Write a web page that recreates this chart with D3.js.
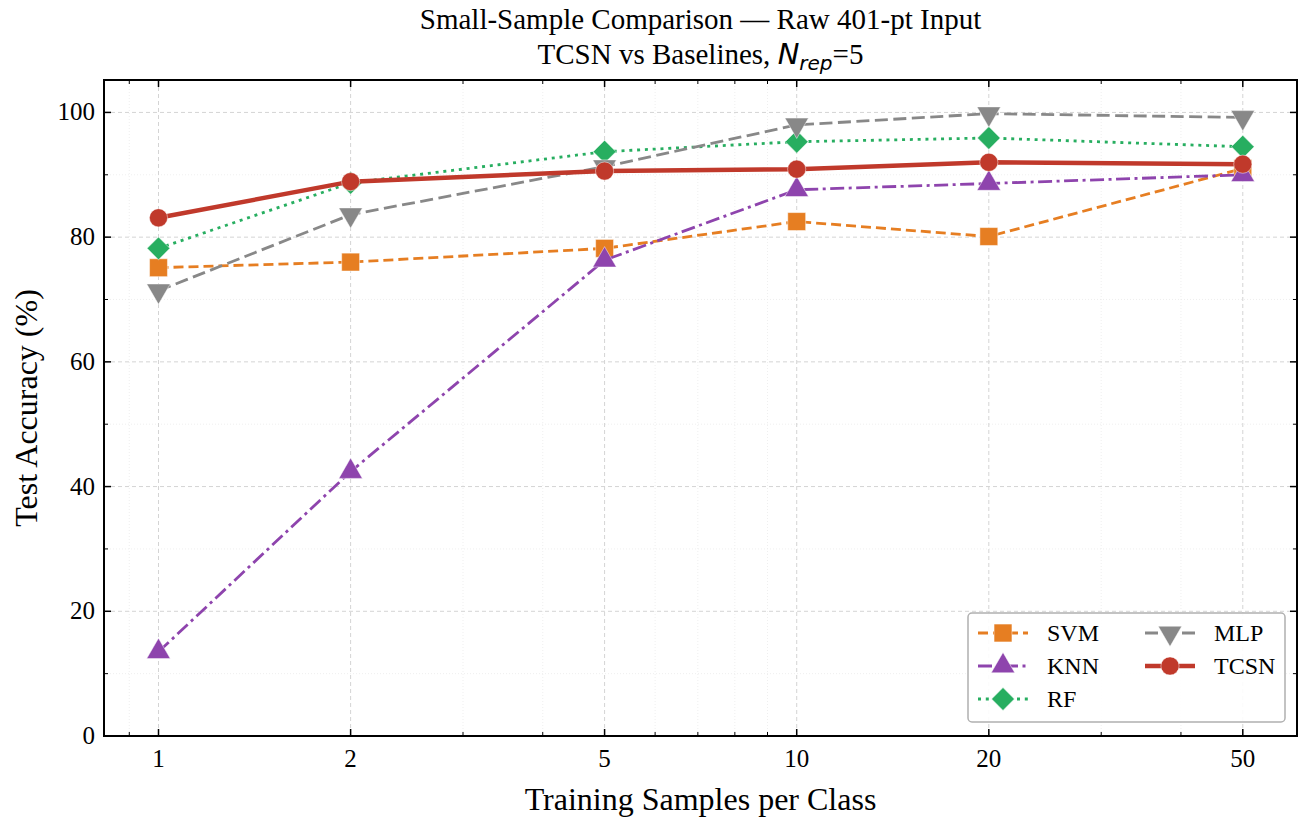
<!DOCTYPE html>
<html>
<head>
<meta charset="utf-8">
<script src="https://cdn.jsdelivr.net/npm/d3@7"></script>
<style>
body { margin: 0; background: #fff; }
svg text { font-family: "Liberation Serif", "Times New Roman", serif; fill: #000; }
</style>
</head>
<body>
<script>
// data
var samples = [1, 2, 5, 10, 20, 50];
var svmAcc  = [75.1, 76.0, 78.2, 82.5, 80.1, 91.0];
var knnAcc  = [13.5, 42.4, 76.3, 87.6, 88.6, 90.0];
var rfAcc   = [78.2, 88.7, 93.7, 95.3, 95.9, 94.5];
var mlpAcc  = [71.4, 83.6, 91.3, 98.0, 99.8, 99.2];
var tcsnAcc = [83.1, 88.9, 90.6, 90.9, 92.0, 91.7];
var seriesNames = ["SVM", "KNN", "RF", "MLP", "TCSN"];
var yTicks = [0, 20, 40, 60, 80, 100];

var W = 1307, H = 823;
var pL = 104, pR = 1297, pT = 80, pB = 736;

var svg = d3.select("body").append("svg")
  .attr("width", W)
  .attr("height", H);

var x = d3.scaleLog().domain([0.8215, 60.8]).range([pL, pR]);
var y = d3.scaleLinear().domain([0, 105.2]).range([pB, pT]);

var xMajor = samples;
var xMinor = [0.9, 3, 4, 6, 7, 8, 9, 30, 40];
var yMinor = [10, 30, 50, 70, 90];

// grid
var grid = svg.append("g");
grid.selectAll(".gxm").data(xMinor).enter().append("line")
  .attr("x1", d => x(d)).attr("x2", d => x(d)).attr("y1", pT).attr("y2", pB)
  .attr("stroke", "#ebebeb").attr("stroke-width", 0.8).attr("stroke-dasharray", "1,2");
grid.selectAll(".gym").data(yMinor).enter().append("line")
  .attr("x1", pL).attr("x2", pR).attr("y1", d => y(d)).attr("y2", d => y(d))
  .attr("stroke", "#ebebeb").attr("stroke-width", 0.8).attr("stroke-dasharray", "1,2");
grid.selectAll(".gx").data(xMajor).enter().append("line")
  .attr("x1", d => x(d)).attr("x2", d => x(d)).attr("y1", pT).attr("y2", pB)
  .attr("stroke", "#d4d4d4").attr("stroke-width", 1).attr("stroke-dasharray", "4,3");
grid.selectAll(".gy").data(yTicks).enter().append("line")
  .attr("x1", pL).attr("x2", pR).attr("y1", d => y(d)).attr("y2", d => y(d))
  .attr("stroke", "#d4d4d4").attr("stroke-width", 1).attr("stroke-dasharray", "4,3");

// series
var series = [
  { name: "SVM",  vals: svmAcc,  color: "#e67e22", width: 2.8, dash: "10,5",    marker: "square" },
  { name: "KNN",  vals: knnAcc,  color: "#8e44ad", width: 2.8, dash: "14,4.5,3,4.5", marker: "triangle" },
  { name: "RF",   vals: rfAcc,   color: "#27ae60", width: 2.8, dash: "3,4.8",   marker: "diamond" },
  { name: "MLP",  vals: mlpAcc,  color: "#888888", width: 2.8, dash: "13,5.5",  marker: "triangleDown" },
  { name: "TCSN", vals: tcsnAcc, color: "#c0392b", width: 4.5, dash: null,      marker: "circle" }
];

var symbolFor = {
  square: d3.symbol().type(d3.symbolSquare).size(320),
  triangle: d3.symbol().type(d3.symbolTriangle).size(240),
  diamond: d3.symbol().type(d3.symbolSquare).size(260),
  triangleDown: d3.symbol().type(d3.symbolTriangle).size(240),
  circle: d3.symbol().type(d3.symbolCircle).size(260)
};
var rotFor = { square: 0, triangle: 0, diamond: 45, triangleDown: 180, circle: 0 };

var line = d3.line().x(d => x(d[0])).y(d => y(d[1]));

function drawMarker(g, s, px, py) {
  g.append("path")
    .attr("d", symbolFor[s.marker]())
    .attr("transform", "translate(" + px + "," + py + ") rotate(" + rotFor[s.marker] + ")")
    .attr("fill", s.color)
    .attr("stroke", "#fff")
    .attr("stroke-opacity", 0.6)
    .attr("stroke-width", 0.8);
}

var plot = svg.append("g");
series.forEach(function(s) {
  var pts = samples.map((d, i) => [d, s.vals[i]]);
  var g = plot.append("g");
  g.append("path")
    .attr("d", line(pts))
    .attr("fill", "none")
    .attr("stroke", s.color)
    .attr("stroke-width", s.width)
    .attr("stroke-dasharray", s.dash);
  pts.forEach(p => drawMarker(g, s, x(p[0]), y(p[1])));
});

// ticks (inward, all sides)
var tk = svg.append("g").attr("stroke", "#000");
xMajor.forEach(function(d) {
  tk.append("line").attr("x1", x(d)).attr("x2", x(d)).attr("y1", pB).attr("y2", pB - 7).attr("stroke-width", 1.5);
  tk.append("line").attr("x1", x(d)).attr("x2", x(d)).attr("y1", pT).attr("y2", pT + 7).attr("stroke-width", 1.5);
});
xMinor.forEach(function(d) {
  tk.append("line").attr("x1", x(d)).attr("x2", x(d)).attr("y1", pB).attr("y2", pB - 4).attr("stroke-width", 1);
  tk.append("line").attr("x1", x(d)).attr("x2", x(d)).attr("y1", pT).attr("y2", pT + 4).attr("stroke-width", 1);
});
yTicks.forEach(function(d) {
  tk.append("line").attr("x1", pL).attr("x2", pL + 7).attr("y1", y(d)).attr("y2", y(d)).attr("stroke-width", 1.5);
  tk.append("line").attr("x1", pR).attr("x2", pR - 7).attr("y1", y(d)).attr("y2", y(d)).attr("stroke-width", 1.5);
});
yMinor.forEach(function(d) {
  tk.append("line").attr("x1", pL).attr("x2", pL + 4).attr("y1", y(d)).attr("y2", y(d)).attr("stroke-width", 1);
  tk.append("line").attr("x1", pR).attr("x2", pR - 4).attr("y1", y(d)).attr("y2", y(d)).attr("stroke-width", 1);
});

// frame
svg.append("rect")
  .attr("x", pL).attr("y", pT)
  .attr("width", pR - pL).attr("height", pB - pT)
  .attr("fill", "none").attr("stroke", "#000").attr("stroke-width", 2);

// tick labels
svg.selectAll(".xl").data(xMajor).enter().append("text")
  .attr("x", d => x(d)).attr("y", pB + 31)
  .attr("text-anchor", "middle").attr("font-size", 25)
  .text(d => d);
svg.selectAll(".yl").data(yTicks).enter().append("text")
  .attr("x", pL - 9).attr("y", d => y(d) + 8)
  .attr("text-anchor", "end").attr("font-size", 25)
  .text(d => d);

// axis labels
svg.append("text")
  .attr("x", (pL + pR) / 2).attr("y", 810)
  .attr("text-anchor", "middle").attr("font-size", 32)
  .text("Training Samples per Class");
svg.append("text")
  .attr("transform", "translate(37," + ((pT + pB) / 2) + ") rotate(-90)")
  .attr("text-anchor", "middle").attr("font-size", 32)
  .text("Test Accuracy (%)");

// title
svg.append("text")
  .attr("x", (pL + pR) / 2).attr("y", 29)
  .attr("text-anchor", "middle").attr("font-size", 29)
  .text("Small-Sample Comparison \u2014 Raw 401-pt Input");
var t2 = svg.append("text")
  .attr("x", (pL + pR) / 2).attr("y", 64)
  .attr("text-anchor", "middle").attr("font-size", 29);
t2.append("tspan").text("TCSN vs Baselines, ");
t2.append("tspan").attr("font-family", "DejaVu Sans").attr("font-style", "italic").text("N");
t2.append("tspan").attr("font-family", "DejaVu Sans").attr("font-style", "italic")
  .attr("font-size", 20).attr("dy", 6).text("rep");
t2.append("tspan").attr("dy", -6).text("=5");

// legend
var lg = svg.append("g");
lg.append("rect")
  .attr("x", 968).attr("y", 613).attr("width", 317).attr("height", 109)
  .attr("rx", 4).attr("fill", "#fff").attr("fill-opacity", 0.9)
  .attr("stroke", "#b0b0b0").attr("stroke-width", 1.5);
var legPos = [[978, 633], [978, 666], [978, 699], [1145, 633], [1145, 666]];
series.forEach(function(s, i) {
  var px = legPos[i][0], py = legPos[i][1];
  lg.append("line")
    .attr("x1", px).attr("x2", px + 50).attr("y1", py).attr("y2", py)
    .attr("stroke", s.color).attr("stroke-width", s.width)
    .attr("stroke-dasharray", s.dash);
  drawMarker(lg, s, px + 25, py);
  lg.append("text")
    .attr("x", px + 69).attr("y", py + 8)
    .attr("font-size", 24)
    .text(s.name);
});
</script>
</body>
</html>
